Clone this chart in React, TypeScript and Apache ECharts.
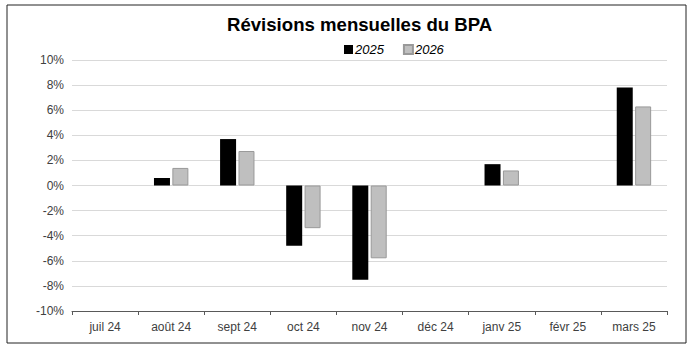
import React, { useEffect, useRef } from "react";
import * as echarts from "echarts";

const categories = ["juil 24", "août 24", "sept 24", "oct 24", "nov 24", "déc 24", "janv 25", "févr 25", "mars 25"];
const series2025 = [0, 0.6, 3.7, -4.8, -7.5, 0, 1.7, 0, 7.8];
const series2026 = [0, 1.4, 2.75, -3.4, -5.8, 0, 1.2, 0, 6.3];
const yTicks = { min: -10, max: 10, interval: 2 };

const hideZero = (arr: number[]) => arr.map((v) => (v === 0 ? "-" : v));

export default function App() {
  const ref = useRef<HTMLDivElement>(null);
  useEffect(() => {
    const chart = echarts.init(ref.current!, null, { renderer: "svg" });
    const font = "'Liberation Sans', Arial, sans-serif";
    chart.setOption({
      animation: false,
      backgroundColor: "#fff",
      textStyle: { fontFamily: font },
      title: {
        text: "Révisions mensuelles du BPA",
        left: 222,
        top: 10,
        textStyle: { fontSize: 18.6, fontWeight: "bold", color: "#000", fontFamily: font },
      },
      legend: {
        left: 339,
        top: 38,
        itemWidth: 9,
        itemHeight: 9,
        itemGap: 19,
        icon: "rect",
        textStyle: { fontSize: 13, fontStyle: "italic", color: "#000", fontFamily: font, padding: [0, 0, 0, -3] },
        data: ["2025", "2026"],
      },
      grid: { left: 72, right: 24, top: 60, bottom: 41, containLabel: false },
      xAxis: [
        {
          type: "category",
          data: categories,
          position: "bottom",
          axisLine: { show: false },
          axisTick: { show: false },
          axisLabel: { color: "#404040", fontSize: 12, margin: 10, fontFamily: font, interval: 0 },
        },
        {
          type: "category",
          data: categories,
          position: "bottom",
          axisLine: { show: true, onZero: true, lineStyle: { color: "#595959", width: 1 } },
          axisTick: { show: true, length: 4, lineStyle: { color: "#595959" } },
          axisLabel: { show: false },
        },
      ],
      yAxis: {
        type: "value",
        min: yTicks.min,
        max: yTicks.max,
        interval: yTicks.interval,
        axisLine: { show: false },
        axisTick: { show: false },
        axisLabel: { formatter: "{value}%", color: "#404040", fontSize: 12, margin: 8, fontFamily: font },
        splitLine: { lineStyle: { color: "#D9D9D9", width: 1 } },
      },
      series: [
        {
          name: "2025",
          type: "bar",
          xAxisIndex: 0,
          data: hideZero(series2025),
          barWidth: 16,
          barGap: "15%",
          itemStyle: { color: "#000000" },
        },
        {
          name: "2026",
          type: "bar",
          xAxisIndex: 0,
          data: hideZero(series2026),
          barWidth: 16,
          itemStyle: { color: "#BFBFBF", borderColor: "#999999", borderWidth: 1 },
        },
      ],
      graphic: [
        {
          type: "rect",
          shape: { x: 7, y: 5, width: 679, height: 338 },
          style: { fill: "none", stroke: "#222", lineWidth: 1 },
          z: 100,
        },
      ],
    });
    return () => chart.dispose();
  }, []);
  return (
    <div
      ref={ref}
      style={{ position: "absolute", left: 0, top: 0, width: 691, height: 352 }}
    />
  );
}
